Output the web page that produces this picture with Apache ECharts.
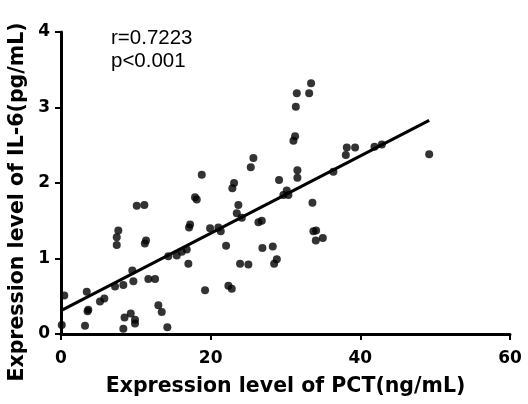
<!DOCTYPE html>
<html>
<head>
<meta charset="utf-8">
<script src="https://cdn.jsdelivr.net/npm/echarts@6/dist/echarts.min.js"></script>
<style>html,body{margin:0;padding:0;background:#fff}#c{width:528px;height:404px}</style>
</head>
<body>
<div id="c"></div>
<script>
const pctValues = [0.1,0.44,3.21,3.44,3.65,3.55,5.21,5.79,7.22,8.33,7.66,7.45,7.45,8.33,8.49,9.32,9.89,9.89,9.53,9.67,10.12,11.14,11.36,11.2,11.67,12.57,13.01,13.46,14.21,14.34,15.47,16.14,16.8,17.02,17.25,17.11,17.91,18.14,18.81,19.25,19.92,21.03,21.35,22.06,22.37,22.82,22.9,23.13,23.49,23.7,24.16,23.93,25.04,25.36,25.71,26.38,26.83,26.91,28.3,28.48,28.84,29.14,29.72,30.17,30.39,31.06,31.28,31.38,31.51,31.59,31.59,33.16,33.42,33.6,33.73,34.09,34.05,34.99,36.4,38.06,38.19,39.3,41.89,42.87,49.2];
const il6Values = [0.12,0.51,0.11,0.56,0.32,0.30,0.43,0.47,0.63,0.65,1.37,1.28,1.18,0.07,0.22,0.27,0.19,0.14,0.84,0.70,1.70,1.71,1.24,1.20,0.73,0.73,0.38,0.29,0.09,1.03,1.04,1.09,1.12,0.93,1.45,1.41,1.81,1.78,2.11,0.58,1.40,1.41,1.36,1.17,0.64,0.60,1.93,2.0,1.60,1.71,1.54,0.93,0.92,2.21,2.33,1.48,1.50,1.14,1.16,0.93,0.99,2.04,1.84,1.90,1.84,2.56,2.62,3.01,3.19,2.17,2.07,3.19,3.32,1.74,1.36,1.37,1.24,1.27,2.15,2.37,2.47,2.47,2.48,2.51,2.38];
const fitX = [0, 49.2];
const fitY = [0.31, 2.83];
const xTicks = [0, 20, 40, 60];
const yTicks = [0, 1, 2, 3, 4];
const statText = ['r=0.7223', 'p<0.001'];
const xTitle = 'Expression level of PCT(ng/mL)';
const yTitle = 'Expression level of IL-6(pg/mL)';

const chart = echarts.init(document.getElementById('c'), null, {renderer: 'canvas'});
const boldFont = '"DejaVu Sans", sans-serif';
const regFont = '"Liberation Sans", Arial, sans-serif';
const axisCommon = {
  axisLine: {show: true, onZero: false, lineStyle: {color: '#000', width: 3}},
  axisTick: {show: true, inside: false, length: 6, lineStyle: {color: '#000', width: 2}},
  splitLine: {show: false},
  axisLabel: {color: '#000', fontFamily: boldFont, fontWeight: 'bold', fontSize: 17},
  nameTextStyle: {color: '#000', fontFamily: boldFont, fontWeight: 'bold', fontSize: 20.5}
};
chart.setOption({
  animation: false,
  backgroundColor: '#fff',
  grid: {left: 61, right: 18, top: 32, bottom: 70, containLabel: false},
  xAxis: Object.assign({}, axisCommon, {
    type: 'value', min: xTicks[0], max: xTicks[xTicks.length - 1], interval: 20,
    name: xTitle, nameLocation: 'middle', nameGap: 42,
    axisLabel: Object.assign({}, axisCommon.axisLabel, {margin: 16})
  }),
  yAxis: Object.assign({}, axisCommon, {
    type: 'value', min: yTicks[0], max: yTicks[yTicks.length - 1], interval: 1,
    axisLabel: Object.assign({}, axisCommon.axisLabel, {margin: 11})
  }),
  graphic: [
    {type: 'text', left: 111, top: 28, style: {text: statText[0], fill: '#000', font: '20.5px ' + regFont}},
    {type: 'text', left: 111, top: 51, style: {text: statText[1], fill: '#000', font: '20.5px ' + regFont}},
    {type: 'text', x: 18, y: 202, rotation: Math.PI / 2,
      style: {text: yTitle, fill: '#000', font: 'bold 20.5px ' + boldFont, align: 'center', verticalAlign: 'middle'}}
  ],
  series: [
    {
      type: 'scatter', symbol: 'circle', symbolSize: 8,
      itemStyle: {color: '#000'},
      data: pctValues.map((v, i) => [v, il6Values[i]]),
      z: 3
    },
    {
      type: 'line', showSymbol: false, symbol: 'none',
      lineStyle: {color: '#000', width: 3},
      data: fitX.map((v, i) => [v, fitY[i]]),
      z: 4
    }
  ]
});
</script>
</body>
</html>
